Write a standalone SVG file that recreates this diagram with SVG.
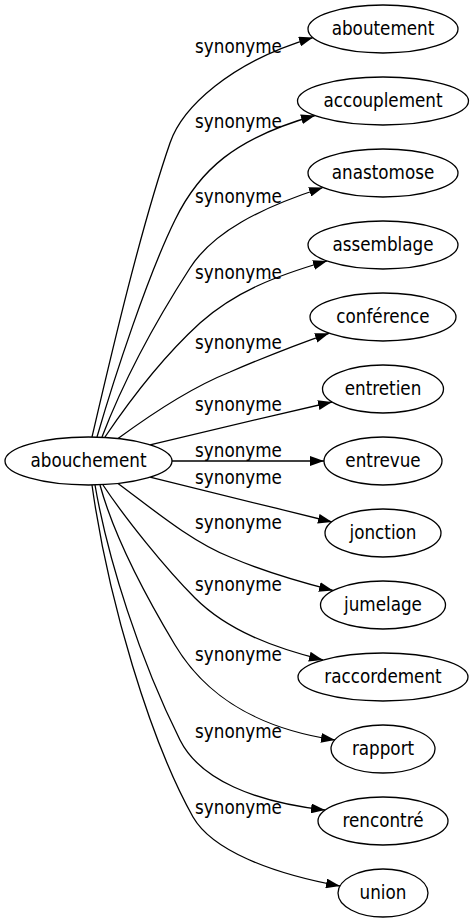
<svg xmlns="http://www.w3.org/2000/svg" width="475" height="923" viewBox="0 0 475 923">
<style>
.n ellipse{fill:#fff;stroke:#000;stroke-width:1.3}
text{font-family:"DejaVu Sans Condensed","DejaVu Sans",sans-serif;font-stretch:condensed;font-size:18.67px;fill:#000;text-anchor:middle}
.e path{fill:none;stroke:#000;stroke-width:1.3;marker-end:url(#arr)}
</style>
<defs>
<marker id="arr" markerUnits="userSpaceOnUse" markerWidth="14" markerHeight="10" refX="13.3" refY="4.7" orient="auto" viewBox="0 0 13.3 9.4"><path d="M0,0 L13.3,4.7 L0,9.4 z" fill="#000"/></marker>
</defs>
<rect width="475" height="923" fill="#fff"/>
<g id="edges" class="e">
<path d="M92,437 C110,360 140,230 170,143 C182,108 230,62 313,37.6"/>
<path d="M97,437 C115,375 148,275 175,220 C199,170.5 235,138 315,115.5"/>
<path d="M102,437 C120,390 150,330 190,268 C213,232 260,208 323,187.5"/>
<path d="M105,437 C130,400 165,355 200,323 C235,292 275,276 327,261"/>
<path d="M118,438.6 C150,415 190,388 230,372 C265,357 295,345 329,333.3"/>
<path d="M150,444.8 C200,433 270,416 332,402"/>
<path d="M172,461 L324,461"/>
<path d="M150,477.2 C200,489 270,507 332,522"/>
<path d="M118,483.4 C150,507 190,541 230,557 C265,572 300,582 333,590.4"/>
<path d="M103,485 C125,518 165,568 195,598 C228,631 275,648 323,660"/>
<path d="M100,485 C115,540 148,600 175,645 C205,695 255,728 335,740"/>
<path d="M95,485 C108,560 140,660 180,740 C200,780 255,802 325,810"/>
<path d="M92,485 C108,600 150,740 193,817 C212,850 270,873 340,886"/>
</g>
<g id="edge-labels">
<text x="238.5" y="53">synonyme</text>
<text x="238.5" y="128">synonyme</text>
<text x="238.5" y="203">synonyme</text>
<text x="238.5" y="279">synonyme</text>
<text x="238.5" y="349">synonyme</text>
<text x="238.5" y="411">synonyme</text>
<text x="238.5" y="457">synonyme</text>
<text x="238.5" y="484">synonyme</text>
<text x="238.5" y="529">synonyme</text>
<text x="238.5" y="591">synonyme</text>
<text x="238.5" y="661">synonyme</text>
<text x="238.5" y="738">synonyme</text>
<text x="238.5" y="814">synonyme</text>
</g>
<g id="abouchement" class="n"><ellipse cx="88.5" cy="461" rx="83.5" ry="24"/><text x="88.5" y="466.6">abouchement</text></g>
<g id="aboutement" class="n"><ellipse cx="383" cy="29" rx="75" ry="24"/><text x="383" y="34.6">aboutement</text></g>
<g id="accouplement" class="n"><ellipse cx="383" cy="101" rx="85.5" ry="24"/><text x="383" y="106.6">accouplement</text></g>
<g id="anastomose" class="n"><ellipse cx="383" cy="173" rx="75" ry="24"/><text x="383" y="178.6">anastomose</text></g>
<g id="assemblage" class="n"><ellipse cx="383" cy="245" rx="75" ry="24"/><text x="383" y="250.6">assemblage</text></g>
<g id="conference" class="n"><ellipse cx="383" cy="317" rx="73" ry="24"/><text x="383" y="322.6">conférence</text></g>
<g id="entretien" class="n"><ellipse cx="383" cy="389" rx="60.5" ry="24"/><text x="383" y="394.6">entretien</text></g>
<g id="entrevue" class="n"><ellipse cx="383" cy="461" rx="59" ry="24"/><text x="383" y="466.6">entrevue</text></g>
<g id="jonction" class="n"><ellipse cx="383" cy="533" rx="58" ry="24"/><text x="383" y="538.6">jonction</text></g>
<g id="jumelage" class="n"><ellipse cx="383" cy="605" rx="62.5" ry="24"/><text x="383" y="610.6">jumelage</text></g>
<g id="raccordement" class="n"><ellipse cx="383" cy="677" rx="85" ry="24"/><text x="383" y="682.6">raccordement</text></g>
<g id="rapport" class="n"><ellipse cx="383" cy="749" rx="52" ry="24"/><text x="383" y="754.6">rapport</text></g>
<g id="rencontre" class="n"><ellipse cx="383" cy="821" rx="65" ry="24"/><text x="383" y="826.6">rencontré</text></g>
<g id="union" class="n"><ellipse cx="383" cy="893" rx="45" ry="24"/><text x="383" y="898.6">union</text></g>
</svg>
